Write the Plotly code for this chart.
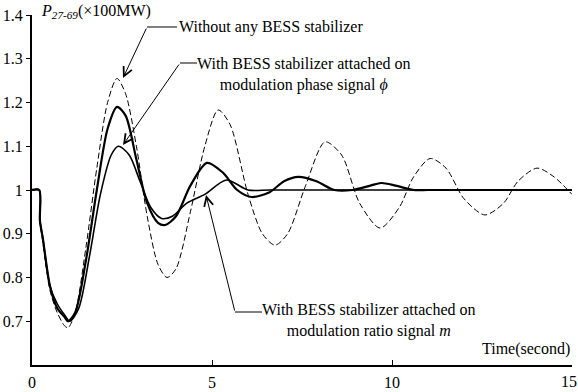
import plotly.graph_objects as go

# ---- data ----
t_none = [0, 0.2, 0.22, 0.3, 0.4, 0.5, 0.7, 0.9, 1.0, 1.2, 1.5, 1.8, 2.1, 2.36, 2.6, 2.9, 3.2, 3.5, 3.75,
          4.0, 4.4, 4.8, 5.17, 5.5, 6.0, 6.4, 6.75, 7.1, 7.6, 8.14, 8.6, 9.1, 9.67, 10.2, 10.6, 11.06,
          11.5, 12.0, 12.58, 13.1, 13.5, 14.03, 14.5, 15]
v_none = [1, 1, 0.93, 0.88, 0.82, 0.77, 0.72, 0.69, 0.685, 0.72, 0.87, 1.05, 1.2, 1.255, 1.22, 1.1, 0.94,
          0.83, 0.80, 0.82, 0.95, 1.1, 1.183, 1.15, 0.99, 0.9, 0.874, 0.9, 1.01, 1.11, 1.08, 0.97, 0.913,
          0.96, 1.03, 1.072, 1.05, 0.98, 0.943, 0.97, 1.02, 1.05, 1.03, 0.99]

t_a = [0, 0.2, 0.22, 0.3, 0.5, 0.7, 0.9, 1.0, 1.2, 1.5, 1.8, 2.1, 2.36, 2.6, 2.9, 3.2, 3.5, 3.7, 4.0, 4.4,
       4.86, 5.3, 5.7, 6.1, 6.6, 7.0, 7.4, 7.9, 8.4, 8.9, 9.4, 9.7, 10.1, 10.6, 11, 12, 13, 14, 15]
v_a = [1, 1, 0.93, 0.89, 0.78, 0.73, 0.71, 0.70, 0.72, 0.84, 1.0, 1.14, 1.19, 1.17, 1.07, 0.97, 0.925, 0.92,
       0.94, 1.01, 1.062, 1.04, 1.0, 0.984, 0.995, 1.02, 1.03, 1.02, 1.0, 1.0, 1.01, 1.016, 1.01, 1.0, 1.0,
       1.0, 1.0, 1.0, 1.0]

t_b = [0, 0.2, 0.22, 0.3, 0.5, 0.7, 0.9, 1.05, 1.3, 1.6, 1.9, 2.2, 2.4, 2.7, 3.0, 3.3, 3.6, 3.9, 4.3, 4.8,
       5.4, 6.0, 6.6, 8, 10, 12, 15]
v_b = [1, 1, 0.93, 0.89, 0.78, 0.74, 0.715, 0.70, 0.73, 0.85, 0.99, 1.08, 1.1, 1.08, 1.02, 0.96, 0.935,
       0.94, 0.97, 0.99, 1.023, 1.0, 1.0, 1.0, 1.0, 1.0, 1.0]

x_ticks = [0, 5, 10, 15]
x_tick_text = ["0", "5", "10", "15"]
y_ticks = [0.7, 0.8, 0.9, 1.0, 1.1, 1.2, 1.3, 1.4]
y_tick_text = ["0.7", "0.8", "0.9", "1", "1.1", "1.2", "1.3", "1.4"]

FONT = "Liberation Serif, Times New Roman, serif"

fig = go.Figure()
fig.add_trace(go.Scatter(x=t_none, y=v_none, mode="lines", line=dict(color="black", width=1, dash="6px,3px", shape="spline", smoothing=0.8)))
fig.add_trace(go.Scatter(x=t_a, y=v_a, mode="lines", line=dict(color="black", width=2.2, shape="spline", smoothing=0.8)))
fig.add_trace(go.Scatter(x=t_b, y=v_b, mode="lines", line=dict(color="black", width=1.6, shape="spline", smoothing=0.8)))


def px2t(px):
    return (px - 32) / 36.0


def py2v(py):
    return 1.4 - (py - 15) / 437.5


anns = []
shapes = []
# leader arrows: (tip px, tail px, horizontal end px)
leaders = [((123, 78), (147, 27), 177), ((123, 145), (180, 63), 197), ((206, 195), (235, 312), 262)]
for tip, tail, hend in leaders:
    anns.append(dict(x=px2t(tip[0]), y=py2v(tip[1]), ax=px2t(tail[0]), ay=py2v(tail[1]), xref="x", yref="y",
                     axref="x", ayref="y", text="", showarrow=True, arrowhead=5, arrowsize=1.8,
                     arrowwidth=1, arrowcolor="black", standoff=0))
    shapes.append(dict(type="line", xref="x", yref="y", x0=px2t(tail[0]), y0=py2v(tail[1]),
                       x1=px2t(hend), y1=py2v(tail[1]), line=dict(color="black", width=1)))

tf = dict(family=FONT, size=16, color="black")
anns.append(dict(x=px2t(177), y=py2v(27), xref="x", yref="y", text="Without any BESS stabilizer",
                 showarrow=False, xanchor="left", yanchor="middle", font=tf))
anns.append(dict(x=px2t(195), y=py2v(74), xref="x", yref="y",
                 text="With BESS stabilizer attached on<br>modulation phase signal <i>ϕ</i>",
                 showarrow=False, xanchor="left", yanchor="middle", align="center", font=tf))
anns.append(dict(x=px2t(260), y=py2v(320), xref="x", yref="y",
                 text="With BESS stabilizer attached on<br>modulation ratio signal <i>m</i>",
                 showarrow=False, xanchor="left", yanchor="middle", align="center", font=tf))
anns.append(dict(x=15, y=py2v(349), xref="x", yref="y", text="Time(second)", showarrow=False,
                 xanchor="right", yanchor="middle", font=tf))
anns.append(dict(x=px2t(39), y=(365 - 12) / 350.0, xref="x", yref="paper",
                 text="<i>P</i><sub><i>27-69</i></sub>(×100MW)", showarrow=False,
                 xanchor="left", yanchor="middle", font=tf))
# last x tick label, nudged left so it stays inside the picture like the reference
anns.append(dict(x=x_ticks[-1], y=(365 - 382) / 350.0, xref="x", yref="paper", text=x_tick_text[-1],
                 showarrow=False, xanchor="center", yanchor="middle", xshift=-3, font=tf))

fig.update_layout(
    width=578, height=392,
    margin=dict(l=32, r=6, t=15, b=27, autoexpand=False),
    paper_bgcolor="white", plot_bgcolor="white",
    showlegend=False,
    annotations=anns, shapes=shapes,
    font=dict(family=FONT, size=16, color="black"),
)
fig.update_xaxes(range=[0, 15], tickvals=x_ticks, ticktext=x_tick_text[:-1] + [""], ticks="inside",
                 ticklen=5, tickwidth=1, tickcolor="black",
                 showline=True, linecolor="black", linewidth=2, showgrid=False, zeroline=False,
                 ticklabeloverflow="allow", ticklabelstandoff=2, automargin=False,
                 tickfont=dict(family=FONT, size=16, color="black"))
fig.update_yaxes(range=[0.6, 1.4], tickvals=y_ticks, ticktext=y_tick_text, ticks="outside", ticklen=4,
                 tickwidth=1, tickcolor="black", showline=True, linecolor="black", linewidth=2,
                 showgrid=False, zeroline=False, ticklabeloverflow="allow", automargin=False,
                 tickfont=dict(family=FONT, size=16, color="black"))

fig.write_html("out.html")
